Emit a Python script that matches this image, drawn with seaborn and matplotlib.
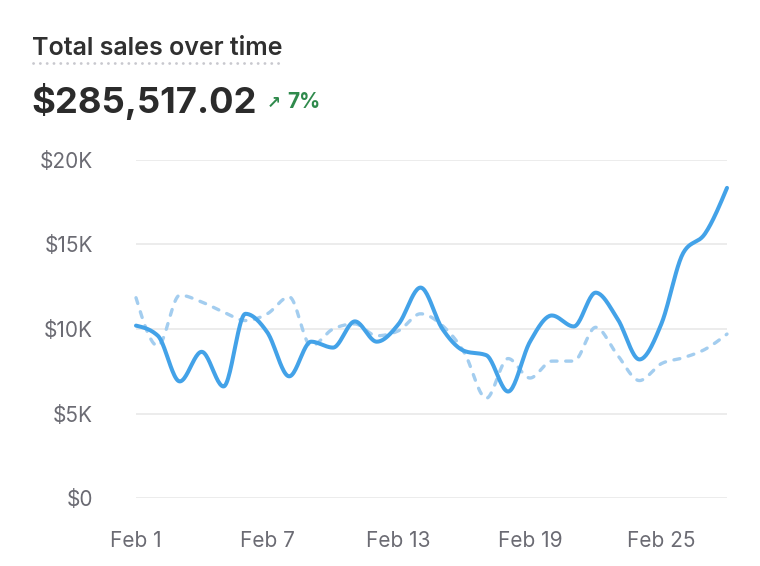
import numpy as np
import pandas as pd
import seaborn as sns
from matplotlib import pyplot as plt
from matplotlib.lines import Line2D

# données (ventes par jour, février)
days = list(range(28))
tick_days = [0, 6, 12, 18, 24]
tick_labels = ["Feb 1", "Feb 7", "Feb 13", "Feb 19", "Feb 25"]
y_ticks = [0, 5000, 10000, 15000, 20000]
y_labels = ["$0", "$5K", "$10K", "$15K", "$20K"]

current_sales = [10200, 9600, 6900, 8650, 6600, 10900, 9800, 7200, 9250, 8900,
                 10450, 9250, 10300, 12450, 10000, 8700, 8450, 6300, 9250, 10800,
                 10150, 12150, 10600, 8200, 10300, 14500, 15650, 18350]
previous_sales = [11850, 9000, 12000, 11600, 11000, 10500, 10900, 11900, 9000, 10000,
                  10300, 9600, 9900, 10900, 10200, 8600, 5900, 8250, 7100, 8100,
                  8100, 10100, 8450, 6950, 7950, 8300, 8800, 9700]

title = "Total sales over time"
total = "$285,517.02"
change = "7%"


def monotone_curve(x, y, steps=24):
    # courbe monotone (type d3 curveMonotoneX) pour le tracé lissé
    x = np.asarray(x, dtype=float)
    y = np.asarray(y, dtype=float)
    h = np.diff(x)
    s = np.diff(y) / h
    m = np.zeros_like(y)
    for i in range(1, len(y) - 1):
        p = (s[i - 1] * h[i] + s[i] * h[i - 1]) / (h[i - 1] + h[i])
        m[i] = (np.sign(s[i - 1]) + np.sign(s[i])) * min(abs(s[i - 1]), abs(s[i]), 0.5 * abs(p))
    m[0] = (3 * s[0] - m[1]) / 2
    m[-1] = (3 * s[-1] - m[-2]) / 2
    xs, ys = [], []
    for i in range(len(y) - 1):
        t = np.linspace(0, 1, steps, endpoint=False)
        h00 = 2 * t**3 - 3 * t**2 + 1
        h10 = t**3 - 2 * t**2 + t
        h01 = -2 * t**3 + 3 * t**2
        h11 = t**3 - t**2
        xs.append(x[i] + t * h[i])
        ys.append(h00 * y[i] + h10 * h[i] * m[i] + h01 * y[i + 1] + h11 * h[i] * m[i + 1])
    xs.append([x[-1]])
    ys.append([y[-1]])
    return np.concatenate(xs), np.concatenate(ys)


sns.set_theme(style="white")
plt.rcParams['font.family'] = ['Inter', 'DejaVu Sans']

fig = plt.figure(figsize=(7.6, 5.66), dpi=100)
ax = fig.add_axes([136 / 760, 1 - 498 / 566, (727 - 136) / 760, (498 - 160) / 566])

px, py = monotone_curve(days, previous_sales)
cx, cy = monotone_curve(days, current_sales)
prev_df = pd.DataFrame({"day": px, "sales": py})
curr_df = pd.DataFrame({"day": cx, "sales": cy})

sns.lineplot(data=prev_df, x="day", y="sales", ax=ax, estimator=None, color="#a3cdef",
             linewidth=2.4, linestyle=(0, (1.8, 2.6)), dash_capstyle="round", clip_on=False)
sns.lineplot(data=curr_df, x="day", y="sales", ax=ax, estimator=None, color="#43a2e8",
             linewidth=2.9, solid_capstyle="round", clip_on=False)

ax.set_xlim(0, 27)
ax.set_ylim(0, 20000)
ax.set_xticks(tick_days)
ax.set_xticklabels(tick_labels)
ax.set_yticks(y_ticks)
ax.set_yticklabels(y_labels)
ax.set_xlabel("")
ax.set_ylabel("")
ax.tick_params(axis="x", length=0, pad=24, labelsize=15, labelcolor="#6b6b73")
ax.tick_params(axis="y", length=0, pad=31, labelsize=15, labelcolor="#6b6b73")
ax.yaxis.grid(True, color="#ebebeb", linewidth=1.3)
ax.xaxis.grid(False)
ax.set_axisbelow(True)
for sp in ax.spines.values():
    sp.set_visible(False)

# en-tête
fig.text(32 / 760, 1 - 55 / 566, title, fontsize=18, fontweight="semibold",
         color="#303030", va="baseline", ha="left")
fig.add_artist(Line2D([33 / 760, 283 / 760], [1 - 63 / 566, 1 - 63 / 566],
                      color="#c8c8ce", linewidth=2.0, linestyle=(0, (0.05, 2.4)),
                      dash_capstyle="round"))
fig.text(31 / 760, 1 - 113 / 566, total, fontsize=26.2, fontweight="bold",
         color="#2b2b2b", va="baseline", ha="left")
fig.text(267 / 760, 1 - 108 / 566, "\u2197", fontsize=12, fontweight="bold",
         color="#2f8a4c", va="baseline", ha="left", family=['DejaVu Sans'])
fig.text(287 / 760, 1 - 108 / 566, change, fontsize=15, fontweight="bold",
         color="#2f8a4c", va="baseline", ha="left")

plt.savefig("out.png", dpi=100)
